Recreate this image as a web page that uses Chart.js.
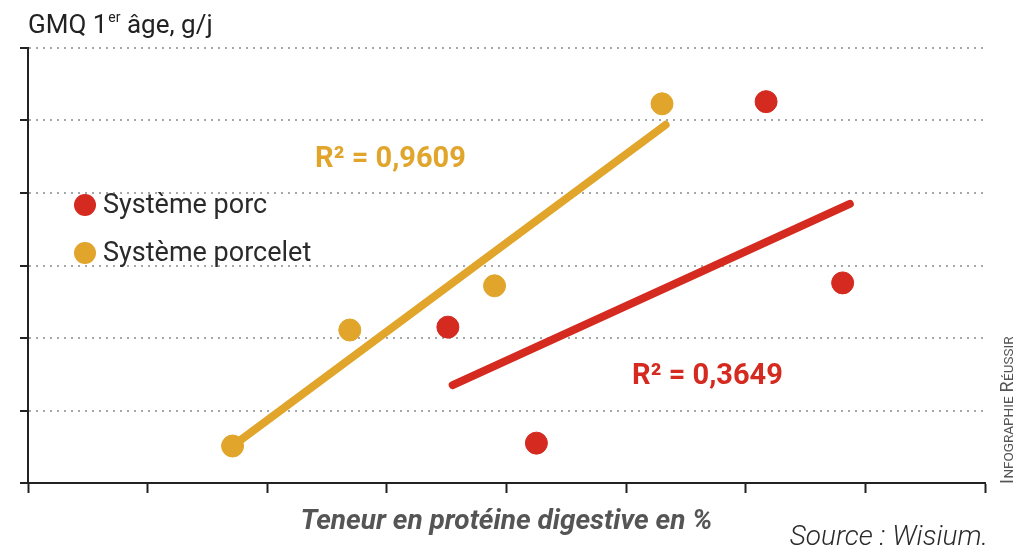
<!DOCTYPE html>
<html>
<head>
    <title>GMQ 1er âge</title>
    <meta charset="utf-8">
    <script src="https://cdn.jsdelivr.net/npm/chart.js@4.4.1/dist/chart.umd.min.js"></script>
    <style>
        html, body { margin:0; padding:0; background:#fff; }
        .wrapper { width:1024px; height:554px; }
    </style>
</head>
<body>
<div class="wrapper"><canvas id="myChart" width="1024" height="554"></canvas></div>

<script>
    // valeurs (echelle sans graduation chiffree)
    var porcX = [3.51, 4.25, 6.17, 6.81];
    var porcY = [2.15, 0.55, 5.26, 2.76];
    var porceletX = [1.71, 2.69, 3.90, 5.30];
    var porceletY = [0.51, 2.11, 2.72, 5.23];

    // droites de tendance
    var trendPorcX = [3.55, 6.87];
    var trendPorcY = [1.35, 3.85];
    var trendPorceletX = [1.71, 5.33];
    var trendPorceletY = [0.51, 4.94];

    var seriesNames = ['Système porc', 'Système porcelet'];
    var r2Labels = ['R\u00B2 = 0,3649', 'R\u00B2 = 0,9609'];
    var yTitle = 'GMQ 1er âge, g/j';
    var xTitle = 'Teneur en protéine digestive en %';
    var sourceText = 'Source : Wisium.';

    var RED = '#d42a1f';
    var GOLD = '#e0a52a';

    function pts(xs, ys) {
        var out = [];
        for (var i in xs) out.push({x: xs[i], y: ys[i]});
        return out;
    }

    // texte en surimpression : titre, legende, R2, source
    const overlay = {
        id: 'overlay',
        afterDraw(chart) {
            const ctx = chart.ctx;
            const sx = chart.scales.x, sy = chart.scales.y;
            ctx.save();
            ctx.textBaseline = 'alphabetic';
            ctx.textAlign = 'left';

            // titre axe y avec exposant
            ctx.fillStyle = '#222';
            var parts = yTitle.split('1er');
            ctx.font = '400 26px Roboto';
            var x = 28;
            ctx.fillText(parts[0] + '1', x, 33);
            x += ctx.measureText(parts[0] + '1').width + 1;
            ctx.font = '400 14px Roboto';
            ctx.fillText('er', x, 22);
            x += ctx.measureText('er').width;
            ctx.font = '400 26px Roboto';
            ctx.fillText(parts[1], x, 33);

            // legende
            var colors = [RED, GOLD];
            var legY = [205, 253];
            for (var i = 0; i < 2; i++) {
                ctx.fillStyle = colors[i];
                ctx.beginPath();
                ctx.arc(85, legY[i], 11, 0, Math.PI * 2);
                ctx.fill();
                ctx.fillStyle = '#2a2a2a';
                ctx.font = '400 27px Roboto';
                ctx.textBaseline = 'middle';
                ctx.fillText(seriesNames[i], 103, legY[i] + 1);
            }

            // R2
            ctx.textBaseline = 'alphabetic';
            ctx.font = '700 29px Roboto';
            ctx.fillStyle = RED;
            ctx.fillText(r2Labels[0], sx.getPixelForValue(5.05), sy.getPixelForValue(1.37));
            ctx.fillStyle = GOLD;
            ctx.fillText(r2Labels[1], sx.getPixelForValue(2.40), sy.getPixelForValue(4.36));

            // source
            ctx.fillStyle = '#2a2a2a';
            ctx.font = 'italic 300 28px Roboto';
            ctx.textAlign = 'right';
            ctx.fillText(sourceText, 988, 545);

            // mention verticale
            ctx.translate(1013, 484);
            ctx.rotate(-Math.PI / 2);
            ctx.textAlign = 'left';
            ctx.fillStyle = '#555';
            var bits = [['I', 18], ['NFOGRAPHIE ', 13.5], ['R', 18], ['ÉUSSIR', 13.5]];
            var bx = 0;
            for (var b of bits) {
                ctx.font = '400 ' + b[1] + 'px Roboto';
                ctx.fillText(b[0], bx, 0);
                bx += ctx.measureText(b[0]).width + 0.5;
            }
            ctx.restore();
        }
    };

    const chartdata = {
        datasets: [
            {
                label: seriesNames[0],
                data: pts(porcX, porcY),
                backgroundColor: RED,
                borderColor: RED,
                pointRadius: 11,
                order: 0
            },
            {
                label: seriesNames[1],
                data: pts(porceletX, porceletY),
                backgroundColor: GOLD,
                borderColor: GOLD,
                pointRadius: 11,
                order: 0
            },
            {
                label: 'tendance porc',
                data: pts(trendPorcX, trendPorcY),
                showLine: true,
                borderColor: RED,
                borderWidth: 8,
                borderCapStyle: 'round',
                pointRadius: 0,
                order: 1
            },
            {
                label: 'tendance porcelet',
                data: pts(trendPorceletX, trendPorceletY),
                showLine: true,
                borderColor: GOLD,
                borderWidth: 8,
                borderCapStyle: 'round',
                pointRadius: 0,
                order: 1
            }
        ]
    };

    const config = {
        type: 'scatter',
        data: chartdata,
        options: {
            responsive: false,
            animation: false,
            layout: { padding: { top: 48, right: 39, left: 0, bottom: 0 } },
            plugins: {
                legend: { display: false },
                tooltip: { enabled: false }
            },
            scales: {
                x: {
                    type: 'linear',
                    min: 0, max: 8,
                    ticks: { display: false, stepSize: 1 },
                    grid: { drawOnChartArea: false, tickLength: 10, tickColor: '#222', tickWidth: 2 },
                    border: { color: '#222', width: 2 },
                    title: {
                        display: true,
                        text: xTitle,
                        color: '#555',
                        font: { family: 'Roboto', size: 28, weight: '700', style: 'italic' },
                        padding: { top: 0, bottom: 15 }
                    },
                    afterFit: function(s) { s.height = 71; }
                },
                y: {
                    min: 0, max: 6,
                    ticks: { display: false, stepSize: 1 },
                    grid: {
                        color: function(c) { return c.tick && c.tick.value === 0 ? 'rgba(0,0,0,0)' : '#a3a8ad'; },
                        lineWidth: 2,
                        tickLength: 8,
                        tickColor: '#222',
                        tickWidth: 2,
                        tickBorderDash: []
                    },
                    border: { color: '#222', width: 2, dash: [2, 5] },
                    afterFit: function(s) { s.width = 28; }
                }
            }
        },
        plugins: [overlay]
    };

    var myChart = new Chart(document.getElementById('myChart'), config);
</script>
</body>
</html>
